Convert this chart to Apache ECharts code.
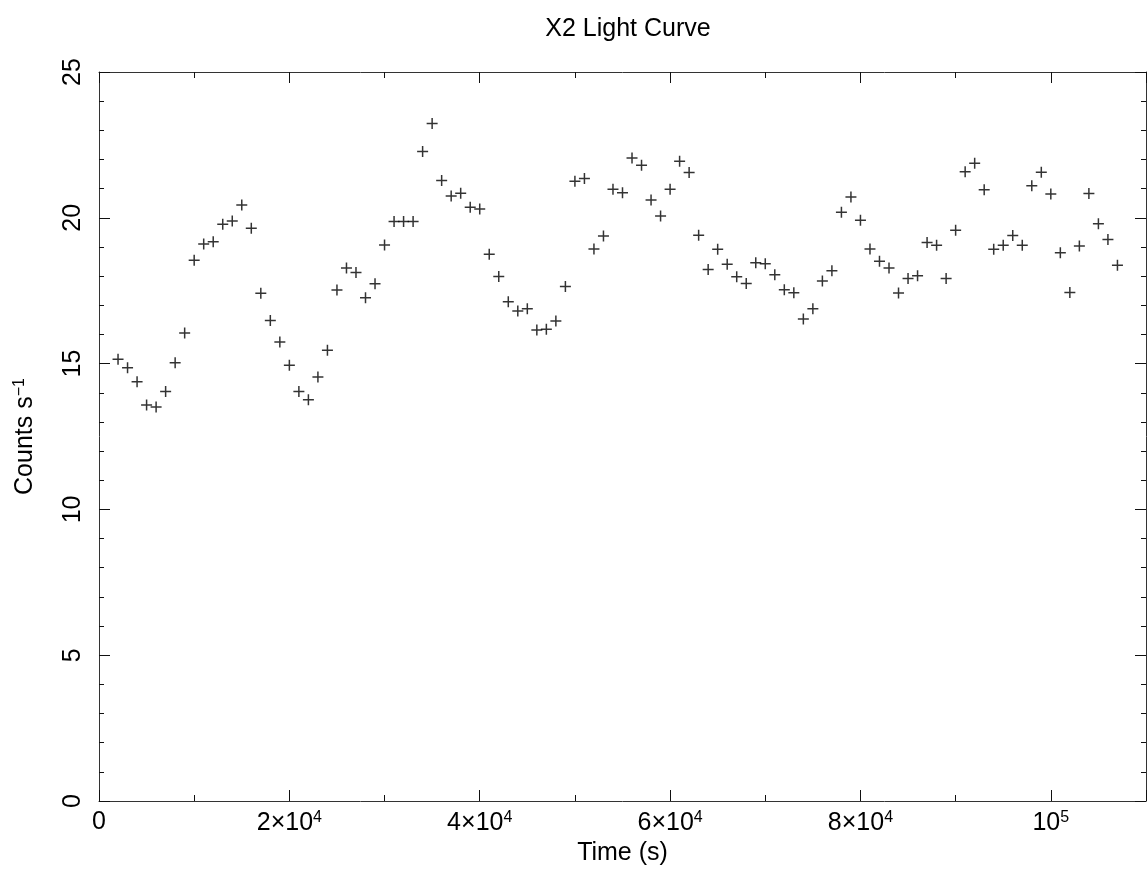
<!DOCTYPE html>
<html>
<head>
<meta charset="utf-8">
<title>X2 Light Curve</title>
<script src="https://cdn.jsdelivr.net/npm/echarts@6/dist/echarts.min.js"></script>
<style>
  html, body { margin: 0; padding: 0; background: #fff; }
  #main { width: 1147px; height: 875px; }
</style>
</head>
<body>
<div id="main"></div>
<script>
// time of each bin (s)
var times = [
  2000, 3000, 4000, 5000, 6000, 7000, 8000, 9000, 10000, 11000,
  12000, 13000, 14000, 15000, 16000, 17000, 18000, 19000, 20000, 21000,
  22000, 23000, 24000, 25000, 26000, 27000, 28000, 29000, 30000, 31000,
  32000, 33000, 34000, 35000, 36000, 37000, 38000, 39000, 40000, 41000,
  42000, 43000, 44000, 45000, 46000, 47000, 48000, 49000, 50000, 51000,
  52000, 53000, 54000, 55000, 56000, 57000, 58000, 59000, 60000, 61000,
  62000, 63000, 64000, 65000, 66000, 67000, 68000, 69000, 70000, 71000,
  72000, 73000, 74000, 75000, 76000, 77000, 78000, 79000, 80000, 81000,
  82000, 83000, 84000, 85000, 86000, 87000, 88000, 89000, 90000, 91000,
  92000, 93000, 94000, 95000, 96000, 97000, 98000, 99000, 100000, 101000,
  102000, 103000, 104000, 105000, 106000, 107000
];
// count rate (counts/s)
var rates = [
  15.15, 14.86, 14.38, 13.58, 13.51, 14.04, 15.03, 16.05, 18.54, 19.10,
  19.18, 19.78, 19.89, 20.44, 19.64, 17.41, 16.48, 15.74, 14.94, 14.04,
  13.76, 14.54, 15.46, 17.52, 18.28, 18.12, 17.26, 17.74, 19.07, 19.87,
  19.87, 19.87, 22.27, 23.23, 21.28, 20.75, 20.84, 20.36, 20.30, 18.75,
  17.99, 17.12, 16.80, 16.88, 16.15, 16.18, 16.46, 17.64, 21.25, 21.35,
  18.93, 19.38, 20.98, 20.86, 22.05, 21.80, 20.61, 20.06, 20.98, 21.94,
  21.55, 19.40, 18.23, 18.92, 18.41, 17.98, 17.75, 18.46, 18.42, 18.05,
  17.53, 17.43, 16.53, 16.88, 17.83, 18.18, 20.19, 20.71, 19.92, 18.93,
  18.51, 18.28, 17.42, 17.92, 18.01, 19.15, 19.06, 17.92, 19.57, 21.58,
  21.87, 20.96, 18.92, 19.06, 19.39, 19.06, 21.10, 21.56, 20.82, 18.80,
  17.44, 19.03, 20.83, 19.80, 19.26, 18.37
];

var font = 'Liberation Sans';
var chart = echarts.init(document.getElementById('main'));

// 0, 2x10^4 ... 10^5
function xLabel(v) {
  if (v === 0) return '0';
  if (v === 100000) return '10{sup|5}';
  return (v / 10000) + '×10{sup|4}';
}

var supStyle = { fontFamily: font, fontSize: 16, verticalAlign: 'top', padding: [0, 0, 11, 0], color: '#000' };
var axisLine = { show: true, onZero: false, lineStyle: { color: '#333', width: 1 } };
var majorTick = { show: true, inside: true, length: 11, lineStyle: { color: '#111' } };
var minorX = { show: true, splitNumber: 2, length: 6, lineStyle: { color: '#111' } };
var minorY = { show: true, splitNumber: 5, length: 5, lineStyle: { color: '#111' } };

var option = {
  animation: false,
  title: {
    text: 'X2 Light Curve',
    left: 623,
    top: 12,
    textAlign: 'center',
    textStyle: { fontFamily: font, fontSize: 25, fontWeight: 'normal', color: '#000' }
  },
  grid: { left: 99, right: 1, top: 72, bottom: 74, outerBoundsMode: 'none', containLabel: false },
  xAxis: [
    {
      type: 'value', min: 0, max: 110000, interval: 20000,
      name: 'Time (s)', nameLocation: 'middle', nameGap: 38,
      nameTextStyle: { fontFamily: font, fontSize: 25, color: '#000' },
      axisLine: axisLine, axisTick: majorTick, minorTick: minorX,
      splitLine: { show: false },
      axisLabel: {
        margin: 9, formatter: xLabel, showMaxLabel: false,
        fontFamily: font, fontSize: 25, color: '#000',
        rich: { sup: supStyle }
      }
    },
    {
      type: 'value', min: 0, max: 110000, interval: 20000, position: 'top',
      axisLine: axisLine, axisTick: majorTick, minorTick: minorX,
      splitLine: { show: false }, axisLabel: { show: false }
    }
  ],
  yAxis: [
    {
      type: 'value', min: 0, max: 25, interval: 5,
      name: 'Counts s{sup|−1}', nameLocation: 'middle', nameGap: 60, nameRotate: 90,
      nameTextStyle: {
        fontFamily: font, fontSize: 25, color: '#000',
        rich: { sup: supStyle }
      },
      axisLine: axisLine, axisTick: majorTick, minorTick: minorY,
      splitLine: { show: false },
      axisLabel: { rotate: 90, margin: 13, fontFamily: font, fontSize: 25, color: '#000' }
    },
    {
      type: 'value', min: 0, max: 25, interval: 5, position: 'right',
      axisLine: axisLine, axisTick: majorTick, minorTick: minorY,
      splitLine: { show: false }, axisLabel: { show: false }
    }
  ],
  series: [
    {
      type: 'scatter',
      xAxisIndex: 0,
      yAxisIndex: 0,
      symbol: 'path://M0,5L10,5M5,0L5,10',
      symbolSize: 11,
      itemStyle: { color: 'transparent', borderColor: '#000', borderWidth: 1.5 },
      data: times.map(function (t, i) { return [t, rates[i]]; })
    }
  ]
};

chart.setOption(option);
</script>
</body>
</html>
